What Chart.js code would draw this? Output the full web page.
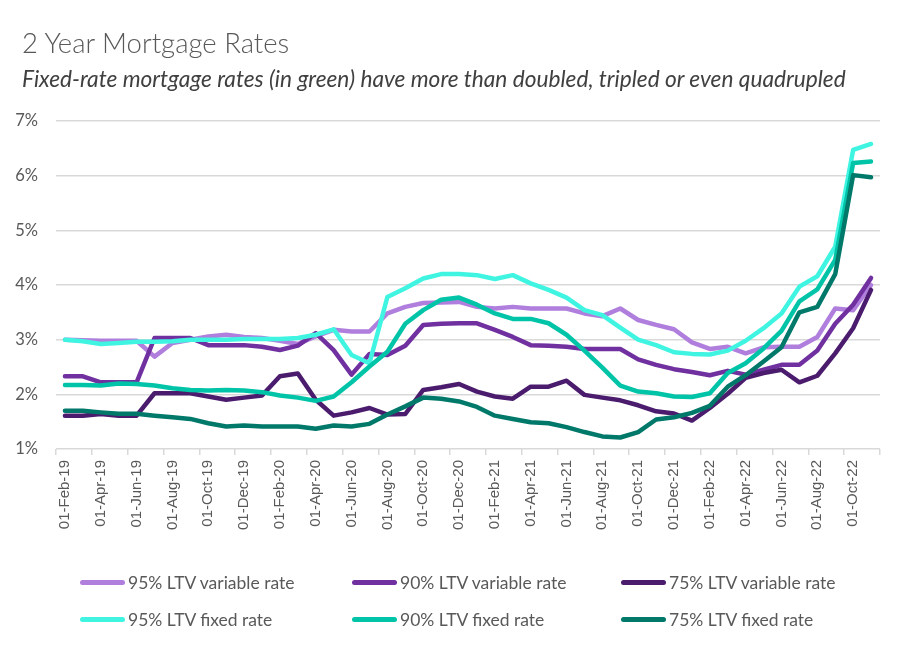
<!DOCTYPE html>
<html>
<head>
<meta charset="utf-8">
<script src="https://cdn.jsdelivr.net/npm/chart.js@4"></script>
<style>
  html, body { margin: 0; padding: 0; background: #fff; }
  #wrap { position: relative; width: 903px; height: 655px; overflow: hidden; }
  #chart { position: absolute; left: 0; top: 0; }
  .title { position: absolute; left: 22px; top: 26px; font: 300 27.5px Lato, sans-serif; color: #595959; white-space: nowrap; }
  .subtitle { position: absolute; left: 22px; top: 65px; font: italic 22.7px Lato, sans-serif; color: #404040; white-space: nowrap; }
  #legend { position: absolute; left: 80px; top: 564px; display: grid; grid-template-columns: 272px 269px auto; grid-auto-rows: 37px; }
  .item { display: flex; align-items: center; font: 17.5px Lato, sans-serif; color: #595959; white-space: nowrap; }
  .sw { display: inline-block; width: 45px; height: 5px; border-radius: 3px; margin-right: 3px; }
</style>
</head>
<body>
<div id="wrap">
  <canvas id="chart" width="903" height="655"></canvas>
  <div class="title">2 Year Mortgage Rates</div>
  <div class="subtitle">Fixed-rate mortgage rates (in green) have more than doubled, tripled or even quadrupled</div>
  <div id="legend"></div>
</div>
<script>
  'use strict';

  // Monthly, Feb 2019 to Nov 2022
  const months = [
    '01-Feb-19', '01-Mar-19', '01-Apr-19', '01-May-19', '01-Jun-19', '01-Jul-19',
    '01-Aug-19', '01-Sep-19', '01-Oct-19', '01-Nov-19', '01-Dec-19', '01-Jan-20',
    '01-Feb-20', '01-Mar-20', '01-Apr-20', '01-May-20', '01-Jun-20', '01-Jul-20',
    '01-Aug-20', '01-Sep-20', '01-Oct-20', '01-Nov-20', '01-Dec-20', '01-Jan-21',
    '01-Feb-21', '01-Mar-21', '01-Apr-21', '01-May-21', '01-Jun-21', '01-Jul-21',
    '01-Aug-21', '01-Sep-21', '01-Oct-21', '01-Nov-21', '01-Dec-21', '01-Jan-22',
    '01-Feb-22', '01-Mar-22', '01-Apr-22', '01-May-22', '01-Jun-22', '01-Jul-22',
    '01-Aug-22', '01-Sep-22', '01-Oct-22', '01-Nov-22'
  ];

  const ltv95Variable = [
    3.00, 2.99, 2.98, 2.98, 2.98, 2.69, 2.94, 3.00, 3.06, 3.09, 3.05, 3.03,
    2.98, 2.92, 3.06, 3.18, 3.15, 3.15, 3.48, 3.60, 3.67, 3.68, 3.69, 3.60,
    3.57, 3.60, 3.57, 3.57, 3.57, 3.48, 3.43, 3.57, 3.36, 3.27, 3.19, 2.95,
    2.83, 2.87, 2.75, 2.86, 2.87, 2.87, 3.05, 3.57, 3.54, 4.00
  ];
  const ltv90Variable = [
    2.33, 2.33, 2.22, 2.22, 2.22, 3.03, 3.03, 3.03, 2.90, 2.90, 2.90, 2.87,
    2.81, 2.89, 3.12, 2.81, 2.36, 2.74, 2.72, 2.89, 3.27, 3.29, 3.30, 3.30,
    3.18, 3.05, 2.90, 2.89, 2.87, 2.83, 2.83, 2.83, 2.64, 2.54, 2.46, 2.41,
    2.35, 2.43, 2.36, 2.45, 2.54, 2.54, 2.80, 3.29, 3.64, 4.13
  ];
  const ltv75Variable = [
    1.61, 1.61, 1.64, 1.61, 1.61, 2.02, 2.02, 2.02, 1.96, 1.90, 1.94, 1.98,
    2.33, 2.38, 1.90, 1.61, 1.67, 1.75, 1.63, 1.64, 2.08, 2.13, 2.19, 2.05,
    1.96, 1.92, 2.14, 2.14, 2.25, 1.99, 1.94, 1.89, 1.80, 1.69, 1.65, 1.52,
    1.75, 2.01, 2.30, 2.39, 2.45, 2.22, 2.34, 2.75, 3.21, 3.91
  ];
  const ltv95Fixed = [
    3.00, 2.97, 2.92, 2.94, 2.96, 2.96, 2.97, 3.00, 3.00, 3.00, 3.01, 3.01,
    3.01, 3.03, 3.09, 3.19, 2.72, 2.57, 3.78, 3.94, 4.12, 4.20, 4.20, 4.18,
    4.11, 4.18, 4.03, 3.91, 3.77, 3.54, 3.45, 3.22, 3.00, 2.90, 2.77, 2.74,
    2.73, 2.80, 2.98, 3.21, 3.48, 3.97, 4.16, 4.70, 6.47, 6.58
  ];
  const ltv90Fixed = [
    2.17, 2.17, 2.16, 2.20, 2.19, 2.16, 2.11, 2.08, 2.07, 2.08, 2.07, 2.04,
    1.98, 1.94, 1.88, 1.96, 2.22, 2.51, 2.78, 3.29, 3.54, 3.73, 3.77, 3.64,
    3.48, 3.38, 3.38, 3.30, 3.09, 2.80, 2.49, 2.16, 2.05, 2.02, 1.96, 1.95,
    2.02, 2.39, 2.57, 2.84, 3.16, 3.70, 3.92, 4.46, 6.23, 6.26
  ];
  const ltv75Fixed = [
    1.70, 1.70, 1.67, 1.645, 1.645, 1.61, 1.58, 1.55, 1.47, 1.41, 1.43, 1.41,
    1.41, 1.41, 1.37, 1.43, 1.41, 1.46, 1.63, 1.78, 1.94, 1.92, 1.87, 1.77,
    1.61, 1.55, 1.49, 1.47, 1.40, 1.31, 1.23, 1.21, 1.31, 1.54, 1.58, 1.66,
    1.79, 2.14, 2.35, 2.60, 2.86, 3.50, 3.60, 4.20, 6.01, 5.97
  ];

  const seriesNames = [
    '95% LTV variable rate', '90% LTV variable rate', '75% LTV variable rate',
    '95% LTV fixed rate', '90% LTV fixed rate', '75% LTV fixed rate'
  ];
  const seriesValues = [ltv95Variable, ltv90Variable, ltv75Variable, ltv95Fixed, ltv90Fixed, ltv75Fixed];
  const seriesColors = ['#b07edc', '#7030a0', '#4b1c6e', '#3ff5e2', '#00c4a8', '#00796a'];

  const yTicks = [1, 2, 3, 4, 5, 6, 7];

  const GRID = '#d9d9d9';
  const TEXT = '#595959';

  const datasets = seriesValues.map((values, i) => ({
    label: seriesNames[i],
    data: values,
    borderColor: seriesColors[i],
    backgroundColor: seriesColors[i],
    borderWidth: 4.5,
    borderCapStyle: 'round',
    borderJoinStyle: 'round',
    pointRadius: 0,
    tension: 0,
    fill: false,
    order: seriesValues.length - i, // later series drawn on top
  }));

  new Chart(document.getElementById('chart'), {
    type: 'line',
    data: { labels: months, datasets },
    options: {
      responsive: false,
      devicePixelRatio: 1,
      animation: false,
      layout: { padding: { top: 121, left: 4, right: 23, bottom: 106 } },
      plugins: {
        legend: { display: false },
        tooltip: { enabled: false },
      },
      scales: {
        x: {
          type: 'category',
          offset: true,
          border: { display: false },
          grid: {
            offset: true,
            drawOnChartArea: false,
            drawTicks: true,
            tickLength: 6,
            lineWidth: 1.5,
            tickColor: (ctx) => (ctx.index === undefined || ctx.index % 2 === 0 ? GRID : 'rgba(0,0,0,0)'),
            color: (ctx) => (ctx.index === undefined || ctx.index % 2 === 0 ? GRID : 'rgba(0,0,0,0)'),
          },
          ticks: {
            autoSkip: false,
            maxRotation: 90,
            minRotation: 90,
            padding: 5,
            color: TEXT,
            font: { family: '"Liberation Sans", Arial, sans-serif', size: 15 },
            callback: function (value, index) {
              return index % 2 === 0 ? this.getLabelForValue(value) : '';
            },
          },
          afterFit: (scale) => { scale.height = 100; },
        },
        y: {
          min: 1,
          max: 7,
          border: { display: false },
          grid: { color: GRID, lineWidth: 1.5, drawTicks: false },
          afterBuildTicks: (scale) => { scale.ticks = yTicks.map((v) => ({ value: v })); },
          ticks: {
            padding: 18,
            color: TEXT,
            font: { family: 'Lato, sans-serif', size: 16.5 },
            callback: (v) => v + '%',
          },
          afterFit: (scale) => { scale.width = 52; },
        },
      },
    },
  });

  // legend laid out in three columns like the original
  const legend = document.getElementById('legend');
  seriesNames.forEach((name, i) => {
    const item = document.createElement('div');
    item.className = 'item';
    item.innerHTML = '<span class="sw" style="background:' + seriesColors[i] + '"></span>' + name;
    legend.appendChild(item);
  });
</script>
</body>
</html>
